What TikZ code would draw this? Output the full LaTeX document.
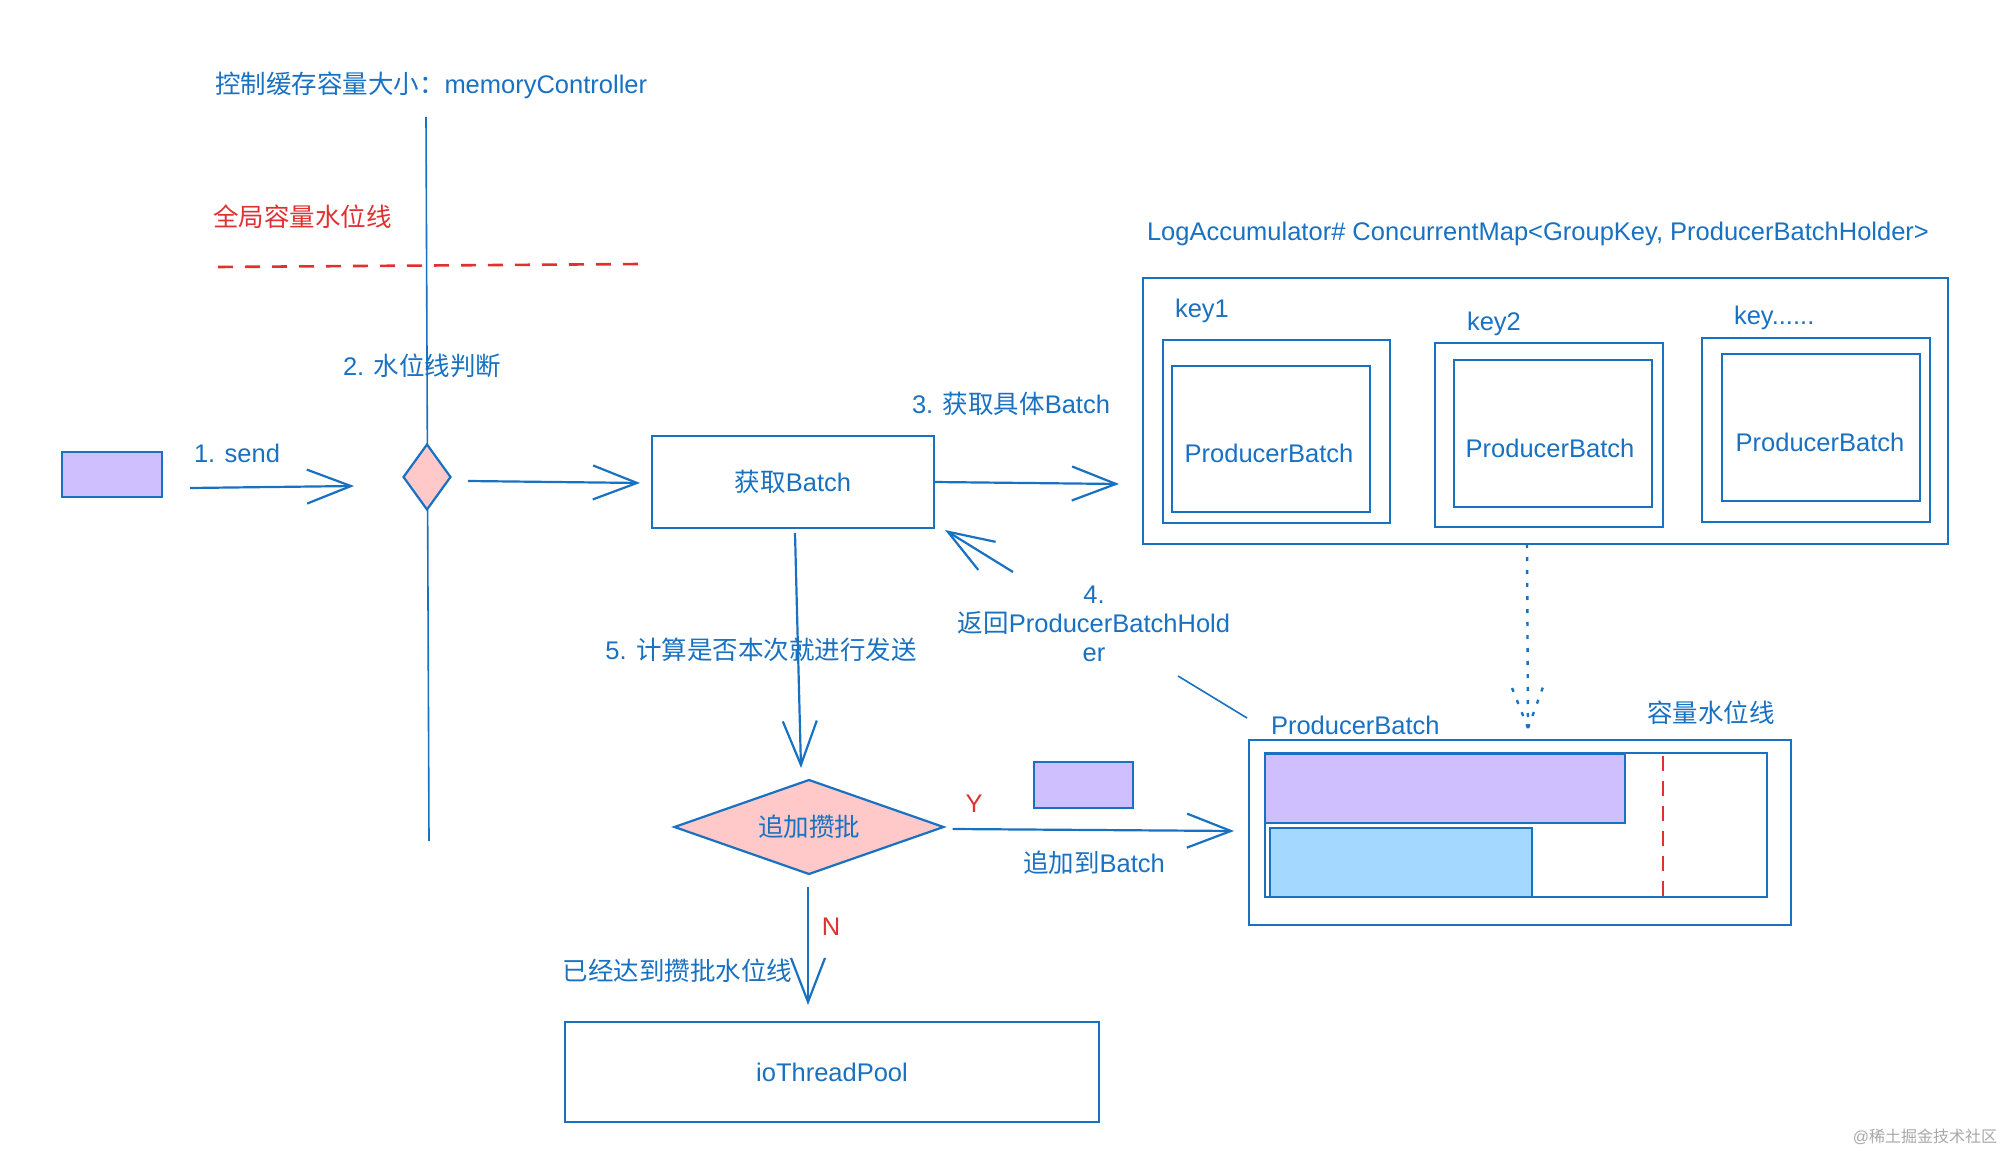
\documentclass[tikz,border=0pt]{standalone}
\usepackage{fontspec}
\setmainfont{Liberation Sans}
\newfontfamily\cjk{Noto Sans CJK SC}
\usetikzlibrary{arrows.meta,shapes.geometric}
\definecolor{exblue}{HTML}{1971C2}
\definecolor{exred}{HTML}{E03131}
\definecolor{expurple}{HTML}{D0BFFF}
\definecolor{exlblue}{HTML}{A5D8FF}
\definecolor{expink}{HTML}{FFC9C9}
\definecolor{exgray}{HTML}{A8A8A8}
\begin{document}
\begin{tikzpicture}[x=1pt,y=-1pt,
  every node/.style={font=\fontsize{25.5}{29}\selectfont, text=exblue, inner sep=0pt, outer sep=0pt},
  line/.style={draw=exblue, line width=2.2pt},
  boxst/.style={line, rectangle},
  arr/.style={line, -{Straight Barb[length=44pt, width=34pt]}},
  dotln/.style={draw=exblue, line width=2.4pt, dash pattern=on 4pt off 9pt},
  redtxt/.style={text=exred}
]
\useasboundingbox[fill=white] (0,0) rectangle (2011,1155);

% memory controller column
\node[anchor=west] (title) at (215,85) {{\cjk 控制缓存容量大小：}memoryController};
\coordinate (vtop) at (426,117);
\coordinate (vbot) at (429,841);
\draw[draw=exblue, line width=1.6pt] (vtop) -- (vbot);
\node[anchor=west, redtxt] (redl) at (213,217) {\cjk 全局容量水位线};
\coordinate (rdl) at (218,267);
\coordinate (rdr) at (641,264);
\draw[draw=exred, line width=2.6pt, dash pattern=on 15pt off 12pt] (rdl) -- (rdr);
\node[anchor=west] (l2) at (343,366) {2. {\cjk 水位线判断}};

% send
\node[boxst, fill=expurple, minimum width=100pt, minimum height=45pt] (msg) at (112,474.5) {};
\node[anchor=west] (l1) at (194,453) {1. send};
\node[line, fill=expink, diamond, shape aspect=0.72, minimum width=47pt, minimum height=65pt] (sdia) at (427,477) {};
\coordinate (a1s) at (190,488);
\coordinate (a1e) at (354,486);
\draw[arr] (a1s) -- (a1e);
\coordinate (a2s) at (468,481);
\coordinate (a2e) at (640,483);
\draw[arr] (a2s) -- (a2e);

% get batch
\node[boxst, minimum width=282pt, minimum height=92pt] (getb) at (793,482) {{\cjk 获取}Batch};
\node (l3) at (1011,404) {3. {\cjk 获取具体}Batch};
\coordinate (a3e) at (1119,484);
\draw[arr] (getb.east) -- (a3e);

% map
\node[anchor=west] (mapl) at (1147,234) {LogAccumulator\# ConcurrentMap<GroupKey, ProducerBatchHolder>};
\node[boxst, minimum width=805pt, minimum height=266pt] (map) at (1545.5,411) {};
\node[anchor=west] (k1) at (1175,311) {key1};
\node[boxst, minimum width=227pt, minimum height=183pt] (o1) at (1276.5,431.5) {};
\node[boxst, minimum width=198pt, minimum height=146pt] (i1) at (1271,439) {};
\node (t1) at (1269,453) {ProducerBatch};
\node[anchor=west] (k2) at (1467,324) {key2};
\node[boxst, minimum width=228pt, minimum height=184pt] (o2) at (1549,435) {};
\node[boxst, minimum width=198pt, minimum height=147pt] (i2) at (1553,433.5) {};
\node (t2) at (1550,448) {ProducerBatch};
\node[anchor=west] (k3) at (1734,318) {key......};
\node[boxst, minimum width=228pt, minimum height=184pt] (o3) at (1816,430) {};
\node[boxst, minimum width=198pt, minimum height=147pt] (i3) at (1821,427.5) {};
\node (t3) at (1820,442) {ProducerBatch};

% return arrow 4
\coordinate (a4s) at (1013,572);
\coordinate (a4e) at (945,530);
\draw[arr, -{Straight Barb[length=46pt, width=33pt]}] (a4s) -- (a4e);
\node[align=center, font=\fontsize{25.5}{29}\selectfont] (l4) at (1094,624) {4.\\{\cjk 返回}ProducerBatchHold\\er};
\coordinate (dgs) at (1178,676);
\coordinate (dge) at (1247,718);
\draw[draw=exblue, line width=1.6pt] (dgs) -- (dge);

% producer batch detail
\node[anchor=west] (pbl) at (1271,725) {ProducerBatch};
\node[anchor=west] (capl) at (1647,713) {\cjk 容量水位线};
\node[boxst, minimum width=542pt, minimum height=185pt] (pbo) at (1520,832.5) {};
\node[boxst, minimum width=502pt, minimum height=144pt] (pbi) at (1516,825) {};
\node[boxst, fill=expurple, minimum width=360pt, minimum height=69pt] (bar1) at (1445,788.5) {};
\node[boxst, fill=exlblue, minimum width=262pt, minimum height=69pt] (bar2) at (1401,862.5) {};
\coordinate (wt) at (1663,756);
\coordinate (wb) at (1663,896);
\draw[draw=exred, line width=2.4pt, dash pattern=on 15pt off 10pt] (wt) -- (wb);
% dotted arrow from map to producer batch
\coordinate (dtip) at (1528,728);
\coordinate (dh1) at (1512,688);
\coordinate (dh2) at (1543,687);
\draw[dotln] (map.south -| 1527,0) -- (dtip);
\draw[dotln] (dtip) -- (dh1);
\draw[dotln] (dtip) -- (dh2);

% step 5
\coordinate (a5s) at (795,533);
\coordinate (a5e) at (801,768);
\draw[arr] (a5s) -- (a5e);
\node (l5) at (761,650) {5. {\cjk 计算是否本次就进行发送}};
\node[line, fill=expink, diamond, shape aspect=2.86, minimum width=269pt, minimum height=94pt] (dia) at (809,827) {\cjk 追加攒批};

% Y branch
\coordinate (aye) at (1234,831);
\draw[arr] (dia.east) ++(9,2) coordinate (ays) -- (aye);
\node[redtxt] (yl) at (974,804) {Y};
\node[boxst, fill=expurple, minimum width=99pt, minimum height=46pt] (msg2) at (1083.5,785) {};
\node (addl) at (1094,863) {{\cjk 追加到}Batch};

% N branch
\coordinate (ans) at (808,887);
\coordinate (ane) at (808,1005);
\draw[arr] (ans) -- (ane);
\node[redtxt] (nl) at (831,927) {N};
\node (nlab) at (677.5,971) {\cjk 已经达到攒批水位线};
\node[boxst, minimum width=534pt, minimum height=100pt] (pool) at (832,1072) {ioThreadPool};

\node[text=exgray, font=\fontsize{16}{18}\selectfont] (wm) at (1925,1137) {@{\cjk 稀土掘金技术社区}};
\end{tikzpicture}
\end{document}
